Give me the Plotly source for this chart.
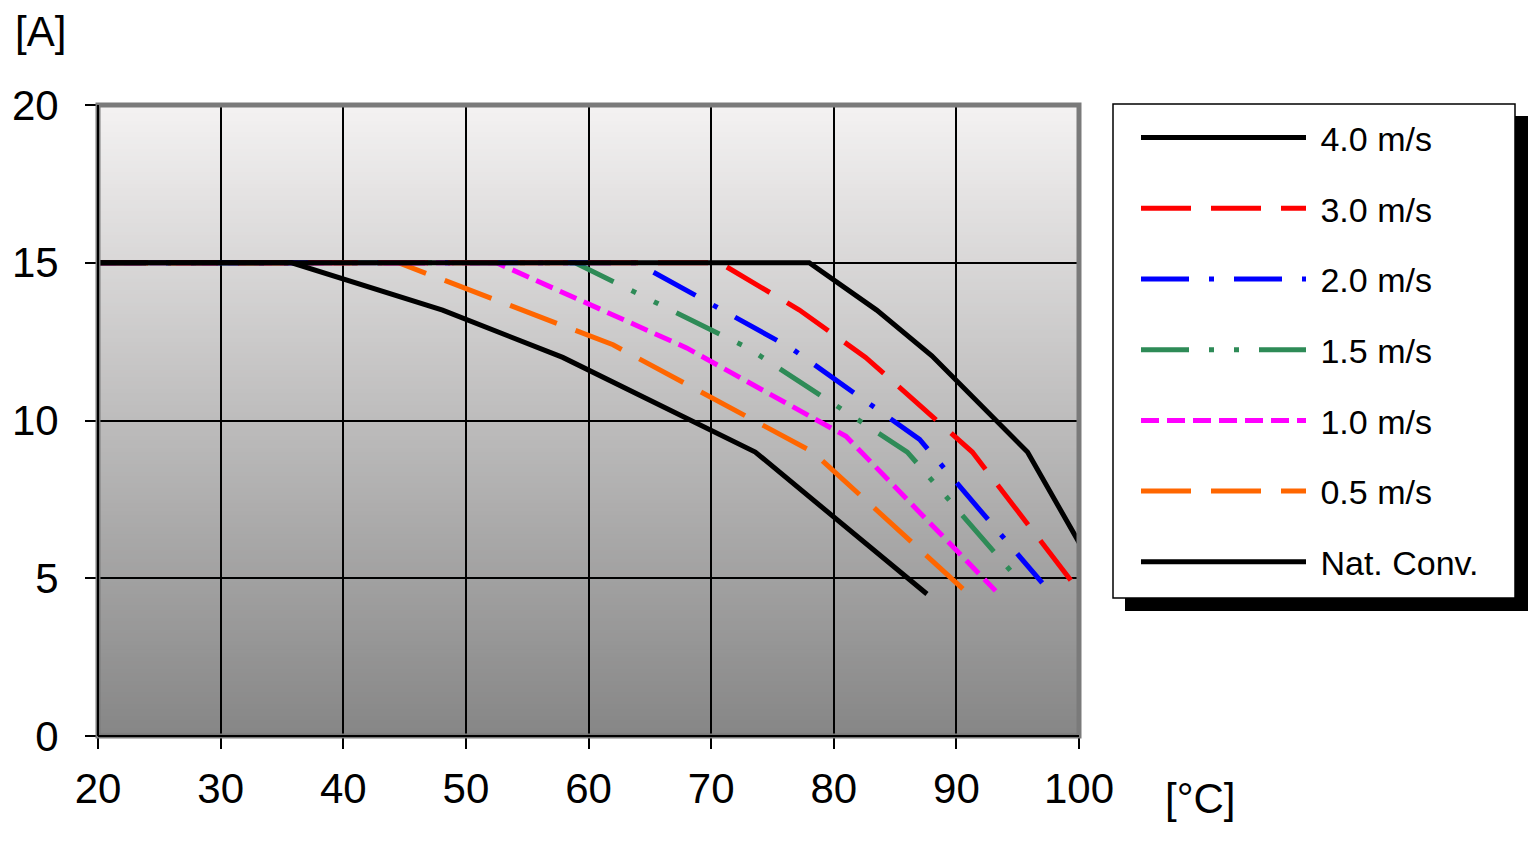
import plotly.graph_objects as go

# ---- data ----
series_names = ["4.0 m/s", "3.0 m/s", "2.0 m/s", "1.5 m/s", "1.0 m/s", "0.5 m/s", "Nat. Conv."]
t_40 = [20, 78.0, 83.5, 88.0, 95.8, 100.2]
i_40 = [15, 15, 13.5, 12.05, 9.0, 6.0]
t_30 = [20, 70.7, 77.2, 82.6, 91.3, 100.0]
i_30 = [15, 15, 13.5, 12.0, 9.0, 4.6]
t_20 = [20, 63.9, 76.5, 87.0, 97.0]
i_20 = [15, 15, 12.3, 9.4, 4.85]
t_15 = [20, 58.9, 73.0, 86.0, 95.4]
i_15 = [15, 15, 12.3, 9.0, 4.8]
t_10 = [20, 52.5, 68.0, 81.0, 93.2]
i_10 = [15, 15, 12.3, 9.5, 4.6]
t_05 = [20, 44.5, 62.0, 78.3, 91.0]
i_05 = [15, 15, 12.4, 9.0, 4.5]
t_nc = [20, 35.8, 48.1, 57.9, 73.6, 87.6]
i_nc = [15, 15, 13.5, 12.0, 9.0, 4.5]
x_ticks = [20, 30, 40, 50, 60, 70, 80, 90, 100]
y_ticks = [0, 5, 10, 15, 20]

colors = ["#000000", "#ff0000", "#0000ff", "#2e8b57", "#ff00ff", "#ff6600", "#000000"]
dashes = ["solid", "50px,20px", "48px,20px,5px,20px", "48px,20px,5px,20px,5px,20px",
          "18px,8px", "50px,20px", "solid"]
xs = [t_40, t_30, t_20, t_15, t_10, t_05, t_nc]
ys = [i_40, i_30, i_20, i_15, i_10, i_05, i_nc]

fig = go.Figure()

# legend-only entries (in legend order)
for k, name in enumerate(series_names):
    fig.add_trace(go.Scatter(x=[None], y=[None], mode="lines", name="\u00a0" + name,
                             legendgroup=name,
                             line=dict(color=colors[k], width=5, dash=dashes[k])))

# plotted curves: coloured first, black on top
order = [5, 4, 3, 2, 1, 6, 0]
for k in order:
    fig.add_trace(go.Scatter(x=xs[k], y=ys[k], mode="lines", showlegend=False,
                             line=dict(color=colors[k], width=5, dash=dashes[k]),
                             hoverinfo="skip"))

# gradient background bands
shapes = []
n = 160
top = (244, 242, 242)
bot = (134, 134, 134)
for j in range(n):
    f = (j + 0.5) / n
    c = tuple(round(bot[m] + (top[m] - bot[m]) * f) for m in range(3))
    shapes.append(dict(type="rect", xref="x domain", yref="y domain",
                       x0=0, x1=1, y0=j / n, y1=(j + 1) / n + 0.002,
                       fillcolor="rgb(%d,%d,%d)" % c, line=dict(width=0), layer="below"))
# frame
shapes.append(dict(type="rect", xref="x domain", yref="y domain", x0=0, x1=1, y0=0, y1=1,
                   line=dict(color="#7a7a7a", width=5), layer="above"))
shapes.append(dict(type="line", xref="x domain", yref="y domain", x0=0, x1=0, y0=0, y1=1,
                   line=dict(color="#000000", width=2), layer="above"))
shapes.append(dict(type="line", xref="x domain", yref="y domain", x0=0, x1=1, y0=0, y1=0,
                   line=dict(color="#000000", width=2), layer="above"))


def px_x(p):
    return (p - 98) / 981


def px_y(p):
    return (736 - p) / 631


# legend shadow and box
shapes.append(dict(type="rect", xref="paper", yref="paper",
                   x0=px_x(1125), x1=px_x(1528), y0=px_y(611), y1=px_y(116),
                   fillcolor="#000000", line=dict(width=0), layer="above"))
shapes.append(dict(type="rect", xref="paper", yref="paper",
                   x0=px_x(1113), x1=px_x(1515), y0=px_y(598), y1=px_y(104),
                   fillcolor="#ffffff", line=dict(color="#000000", width=1.5), layer="above"))

font = "Liberation Sans, Arial, sans-serif"
fig.update_layout(
    width=1535, height=843,
    margin=dict(l=98, r=456, t=105, b=107),
    paper_bgcolor="white", plot_bgcolor="white",
    shapes=shapes,
    showlegend=True,
    legend=dict(x=px_x(1136), y=px_y(109), xanchor="left", yanchor="top",
                bgcolor="rgba(0,0,0,0)", borderwidth=0,
                font=dict(family=font, size=34, color="black"),
                itemwidth=165, tracegroupgap=23.5, traceorder="grouped",
                maxheight=700),
    xaxis=dict(range=[20, 100], tickvals=x_ticks, ticktext=[str(v) for v in x_ticks],
               showgrid=True, gridcolor="#000000", gridwidth=1.5, zeroline=False,
               ticks="outside", ticklen=12, tickwidth=1.5, tickcolor="black",
               tickfont=dict(family=font, size=42, color="black"), showline=False,
               ticklabelstandoff=4),
    yaxis=dict(range=[0, 20], tickvals=y_ticks, ticktext=[str(v) for v in y_ticks],
               showgrid=True, gridcolor="#000000", gridwidth=1.5, zeroline=False,
               ticks="outside", ticklen=12, tickwidth=1.5, tickcolor="black",
               tickfont=dict(family=font, size=42, color="black"), showline=False,
               ticklabelstandoff=18),
    annotations=[
        dict(text="[A]", xref="paper", yref="paper", x=px_x(40), y=px_y(32),
             showarrow=False, font=dict(family=font, size=42, color="black"),
             xanchor="center", yanchor="middle"),
        dict(text="[°C]", xref="paper", yref="paper", x=px_x(1200), y=px_y(798),
             showarrow=False, font=dict(family=font, size=42, color="black"),
             xanchor="center", yanchor="middle"),
    ],
)

fig.write_html("out.html")
